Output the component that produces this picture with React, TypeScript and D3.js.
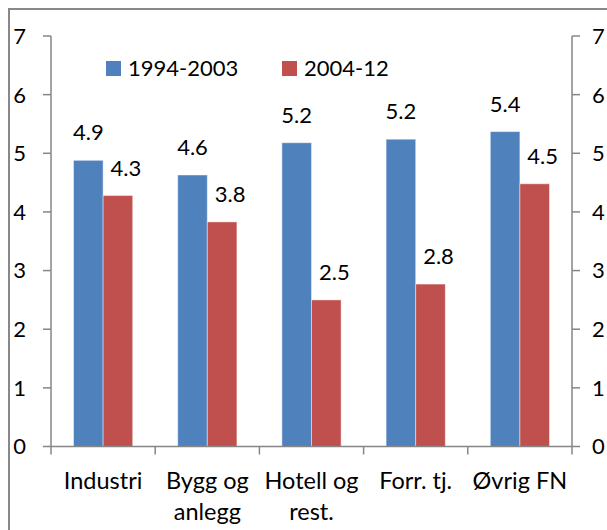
import * as d3 from 'd3';
import React, { useEffect, useRef } from 'react';

const categories = ['Industri', 'Bygg og anlegg', 'Hotell og rest.', 'Forr. tj.', 'Øvrig FN'];
const tickLabels = [['Industri'], ['Bygg og', 'anlegg'], ['Hotell og', 'rest.'], ['Forr. tj.'], ['Øvrig FN']];
const seriesNames = ['1994-2003', '2004-12'];
const values9403 = [4.88, 4.63, 5.18, 5.24, 5.37];
const values0412 = [4.28, 3.83, 2.5, 2.77, 4.48];
const yTicks = [0, 1, 2, 3, 4, 5, 6, 7];

const colors = ['#4F81BD', '#C0504D'];
const FONT = 'Lato, "Open Sans", sans-serif';

export default function App() {
  const ref = useRef<SVGSVGElement>(null);

  useEffect(() => {
    const width = 607;
    const height = 530;
    const svg = d3.select(ref.current).attr('width', width).attr('height', height);
    svg.selectAll('*').remove();

    // outer frame (cut off on the right and bottom like the source)
    svg
      .append('rect')
      .attr('x', 9)
      .attr('y', 9)
      .attr('width', 700)
      .attr('height', 600)
      .attr('fill', 'white')
      .attr('stroke', '#888')
      .attr('stroke-width', 2);

    const left = 51;
    const right = 572;
    const x = d3.scaleBand<string>().domain(categories).range([left, right]).padding(0);
    const x1 = d3.scaleBand<string>().domain(seriesNames).range([0, x.bandwidth()]).paddingInner(0).paddingOuter(0.76);
    const y = d3.scaleLinear().domain([0, 7]).range([446.5, 36]);

    const series = [values9403, values0412];

    // bars
    series.forEach((vals, si) => {
      svg
        .append('g')
        .selectAll('rect')
        .data(vals)
        .join('rect')
        .attr('x', (_, i) => x(categories[i])! + x1(seriesNames[si])!)
        .attr('y', (d) => y(d))
        .attr('width', x1.bandwidth())
        .attr('height', (d) => y(0) - y(d))
        .attr('fill', colors[si])
        .attr('stroke', 'rgba(255,255,255,0.45)')
        .attr('stroke-width', 1);

      svg
        .append('g')
        .attr('font-family', FONT)
        .attr('font-size', 22)
        .attr('text-anchor', 'middle')
        .selectAll('text')
        .data(vals)
        .join('text')
        .attr('x', (_, i) => x(categories[i])! + x1(seriesNames[si])! + x1.bandwidth() / 2 + (si === 1 ? 8 : 0))
        .attr('y', (d) => y(d) - 20)
        .attr('fill', '#000')
        .text((d) => d3.format('.1f')(d));
    });

    // left axis
    const axisColor = '#868686';
    const leftAxis = svg.append('g');
    leftAxis.append('line').attr('x1', left).attr('x2', left).attr('y1', y(7)).attr('y2', y(0)).attr('stroke', axisColor).attr('stroke-width', 1.5);
    leftAxis
      .selectAll('line.tick')
      .data(yTicks)
      .join('line')
      .attr('class', 'tick')
      .attr('x1', left - 8)
      .attr('x2', left)
      .attr('y1', (d) => y(d))
      .attr('y2', (d) => y(d))
      .attr('stroke', axisColor)
      .attr('stroke-width', 1.5);
    leftAxis
      .selectAll('text')
      .data(yTicks)
      .join('text')
      .attr('x', 26)
      .attr('y', (d) => y(d))
      .attr('dy', '0.36em')
      .attr('text-anchor', 'end')
      .attr('font-family', FONT)
      .attr('font-size', 22)
      .text((d) => d);

    // right axis (labels run off the edge, as in the source)
    const rightAxis = svg.append('g');
    rightAxis.append('line').attr('x1', right).attr('x2', right).attr('y1', y(7)).attr('y2', y(0)).attr('stroke', axisColor).attr('stroke-width', 1.5);
    rightAxis
      .selectAll('line.tick')
      .data(yTicks)
      .join('line')
      .attr('class', 'tick')
      .attr('x1', right)
      .attr('x2', right + 8)
      .attr('y1', (d) => y(d))
      .attr('y2', (d) => y(d))
      .attr('stroke', axisColor)
      .attr('stroke-width', 1.5);
    rightAxis
      .selectAll('text')
      .data(yTicks)
      .join('text')
      .attr('x', 592)
      .attr('y', (d) => y(d))
      .attr('dy', '0.36em')
      .attr('text-anchor', 'start')
      .attr('font-family', FONT)
      .attr('font-size', 22)
      .text((d) => d);

    // x axis
    const xAxis = svg.append('g');
    xAxis.append('line').attr('x1', left).attr('x2', right).attr('y1', y(0)).attr('y2', y(0)).attr('stroke', axisColor).attr('stroke-width', 1.5);
    const bounds = [...categories.map((c) => x(c)!), right];
    xAxis
      .selectAll('line.tick')
      .data(bounds)
      .join('line')
      .attr('class', 'tick')
      .attr('x1', (d) => d)
      .attr('x2', (d) => d)
      .attr('y1', y(0))
      .attr('y2', y(0) + 8)
      .attr('stroke', axisColor)
      .attr('stroke-width', 1.5);
    const lbl = xAxis
      .selectAll('text')
      .data(categories)
      .join('text')
      .attr('text-anchor', 'middle')
      .attr('font-family', FONT)
      .attr('font-size', 23.5)
      .attr('y', 489);
    lbl
      .selectAll('tspan')
      .data((_, i) => tickLabels[i].map((t) => ({ t, i })))
      .join('tspan')
      .attr('x', (d) => x(categories[d.i])! + x.bandwidth() / 2)
      .attr('dy', (_, j) => (j === 0 ? 0 : 31))
      .text((d) => d.t);

    // legend
    const legendX = [106, 282];
    const legend = svg
      .append('g')
      .selectAll('g')
      .data(seriesNames)
      .join('g')
      .attr('transform', (_, i) => `translate(${legendX[i]},61)`);
    legend.append('rect').attr('width', 15).attr('height', 15).attr('fill', (_, i) => colors[i]);
    legend
      .append('text')
      .attr('x', 22)
      .attr('y', 15)
      .attr('font-family', FONT)
      .attr('font-size', 22)
      .text((d) => d);
  }, []);

  return <svg ref={ref} style={{ position: 'absolute', left: 0, top: 0, display: 'block' }}></svg>;
}
